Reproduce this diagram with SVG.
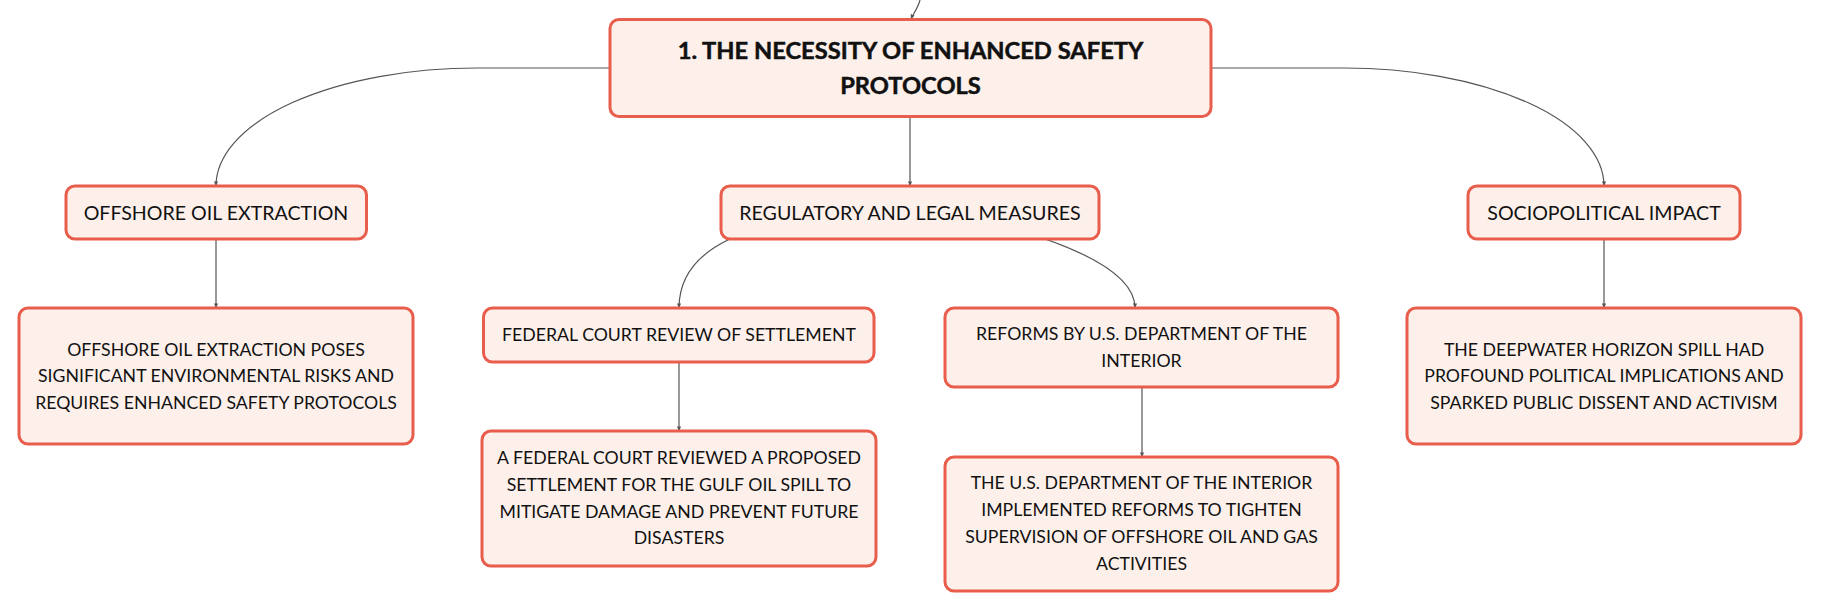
<svg xmlns="http://www.w3.org/2000/svg" width="1821" height="612" viewBox="0 0 1821 612">
<defs>
<style>
.box{fill:#fdf0eb;stroke:#e85d4c;stroke-width:3}
.t{font-family:Lato,"Noto Sans","Liberation Sans",sans-serif;font-size:17.7px;fill:#111;text-anchor:middle}
.m{font-family:Lato,"Noto Sans","Liberation Sans",sans-serif;font-size:19.6px;fill:#111;text-anchor:middle}
.b{font-family:Lato,"Noto Sans","Liberation Sans",sans-serif;font-size:23.7px;font-weight:700;fill:#111;stroke:#111;stroke-width:0.5;text-anchor:middle}
.c{fill:none;stroke:#555;stroke-width:1.2}
</style>
<marker id="ar" viewBox="0 0 6 6" refX="5.5" refY="3" markerWidth="5" markerHeight="5" orient="auto" markerUnits="userSpaceOnUse">
<path d="M0,0.5 L6,3 L0,5.5 Z" fill="#555"/>
</marker>
</defs>
<rect width="1821" height="612" fill="#ffffff"/>
<g id="connectors">
<path class="c" d="M920,0 C918,8 913,14 911,19" marker-end="url(#ar)"/>
<path class="c" d="M610,68 L477,68 A261,118 0 0 0 216,186" marker-end="url(#ar)"/>
<path class="c" d="M1211,68 L1344,68 A260,118 0 0 1 1604,186" marker-end="url(#ar)"/>
<path class="c" d="M910,117 L910,186" marker-end="url(#ar)"/>
<path class="c" d="M910,212 Q679,212 679,308" marker-end="url(#ar)"/>
<path class="c" d="M1000,225 Q1135,262 1135,308" marker-end="url(#ar)"/>
<path class="c" d="M216,239 L216,308" marker-end="url(#ar)"/>
<path class="c" d="M679,362 L679,431" marker-end="url(#ar)"/>
<path class="c" d="M1142,387 L1142,457" marker-end="url(#ar)"/>
<path class="c" d="M1604,239 L1604,308" marker-end="url(#ar)"/>
</g>
<g id="root">
<rect class="box" x="610" y="19.5" width="601" height="97" rx="9"/>
<text class="b" x="910.5" y="58.5">1. THE NECESSITY OF ENHANCED SAFETY</text>
<text class="b" x="910.5" y="94">PROTOCOLS</text>
</g>
<g id="offshore">
<rect class="box" x="66" y="186" width="300.5" height="53" rx="9"/>
<text class="m" x="216" y="220">OFFSHORE OIL EXTRACTION</text>
</g>
<g id="offshore-detail">
<rect class="box" x="19" y="308" width="394" height="136" rx="9"/>
<text class="t" x="216" y="355.5">OFFSHORE OIL EXTRACTION POSES</text>
<text class="t" x="216" y="382.3">SIGNIFICANT ENVIRONMENTAL RISKS AND</text>
<text class="t" x="216" y="409">REQUIRES ENHANCED SAFETY PROTOCOLS</text>
</g>
<g id="regulatory">
<rect class="box" x="721" y="186" width="378" height="53" rx="9"/>
<text class="m" x="910" y="220">REGULATORY AND LEGAL MEASURES</text>
</g>
<g id="federal">
<rect class="box" x="483.5" y="308" width="390.5" height="54" rx="9"/>
<text class="t" x="679" y="341">FEDERAL COURT REVIEW OF SETTLEMENT</text>
</g>
<g id="federal-detail">
<rect class="box" x="482" y="431" width="394" height="135" rx="9"/>
<text class="t" x="679" y="464">A FEDERAL COURT REVIEWED A PROPOSED</text>
<text class="t" x="679" y="490.8">SETTLEMENT FOR THE GULF OIL SPILL TO</text>
<text class="t" x="679" y="517.6">MITIGATE DAMAGE AND PREVENT FUTURE</text>
<text class="t" x="679" y="544.4">DISASTERS</text>
</g>
<g id="reforms">
<rect class="box" x="945" y="308" width="393" height="79" rx="9"/>
<text class="t" x="1141.5" y="340">REFORMS BY U.S. DEPARTMENT OF THE</text>
<text class="t" x="1141.5" y="366.7">INTERIOR</text>
</g>
<g id="reforms-detail">
<rect class="box" x="945" y="457" width="393" height="134" rx="9"/>
<text class="t" x="1141.5" y="489">THE U.S. DEPARTMENT OF THE INTERIOR</text>
<text class="t" x="1141.5" y="516">IMPLEMENTED REFORMS TO TIGHTEN</text>
<text class="t" x="1141.5" y="542.8">SUPERVISION OF OFFSHORE OIL AND GAS</text>
<text class="t" x="1141.5" y="569.6">ACTIVITIES</text>
</g>
<g id="sociopolitical">
<rect class="box" x="1468" y="186" width="272" height="53" rx="9"/>
<text class="m" x="1604" y="220">SOCIOPOLITICAL IMPACT</text>
</g>
<g id="sociopolitical-detail">
<rect class="box" x="1407" y="308" width="394" height="136" rx="9"/>
<text class="t" x="1604" y="355.5">THE DEEPWATER HORIZON SPILL HAD</text>
<text class="t" x="1604" y="382.3">PROFOUND POLITICAL IMPLICATIONS AND</text>
<text class="t" x="1604" y="409">SPARKED PUBLIC DISSENT AND ACTIVISM</text>
</g>
</svg>
